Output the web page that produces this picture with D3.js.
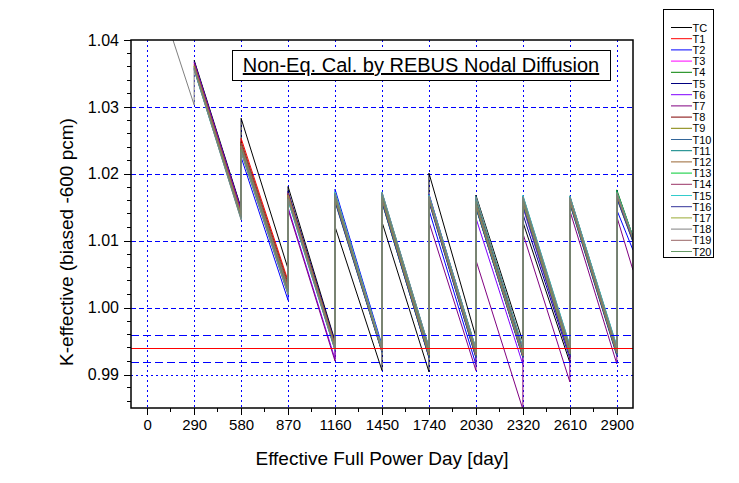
<!DOCTYPE html>
<html>
<head>
<meta charset="utf-8">
<script src="https://cdn.jsdelivr.net/npm/d3@7/dist/d3.min.js"></script>
<style>
	body { margin: 0; background: #fff; }
	svg text { font-family: "Liberation Sans", Arial, sans-serif; fill: #000; }
</style>
</head>
<body>
<div id="chartDiv"></div>
<script>
// cycle boundaries in EFPD (last one is where the frame cuts off)
var cycleDays = [290, 580, 870, 1160, 1450, 1740, 2030, 2320, 2610, 2900, 3000];
var xTicks = [0, 290, 580, 870, 1160, 1450, 1740, 2030, 2320, 2610, 2900];
var yTicks = [0.99, 1.00, 1.01, 1.02, 1.03, 1.04];

var seriesNames = ["TC", "T1", "T2", "T3", "T4", "T5", "T6", "T7", "T8", "T9", "T10",
	"T11", "T12", "T13", "T14", "T15", "T16", "T17", "T18", "T19", "T20"];
var seriesColors = ["#000000", "#ff0000", "#0000ff", "#ff00ff", "#008000", "#000080", "#8000ff",
	"#800080", "#800000", "#808000", "#336699", "#008080", "#996633", "#00cc33", "#993366",
	"#33cccc", "#333399", "#99aa33", "#808080", "#996666", "#669966"];

// k-eff per cycle as BOC, EOC pairs (10 cycles)
var kTC  = [1.0370, 1.0149, 1.0283, 1.0058, 1.0181, 0.9950, 1.0121, 0.9906, 1.0128, 0.9904, 1.0201, 0.9956, 1.0168, 0.9949, 1.0128, 0.9918, 1.0160, 0.9935, 1.0170, 1.0104];
var kT1  = [1.0362, 1.0140, 1.0253, 1.0040, 1.0170, 0.9944, 1.0165, 0.9938, 1.0160, 0.9930, 1.0165, 0.9932, 1.0158, 0.9932, 1.0160, 0.9934, 1.0162, 0.9934, 1.0168, 1.0102];
var kT2  = [1.0358, 1.0136, 1.0225, 1.0011, 1.0168, 0.9942, 1.0177, 0.9944, 1.0160, 0.9928, 1.0146, 0.9915, 1.0150, 0.9926, 1.0162, 0.9936, 1.0158, 0.9930, 1.0146, 1.0086];
var kT3  = [1.0366, 1.0144, 1.0240, 1.0028, 1.0172, 0.9946, 1.0166, 0.9939, 1.0168, 0.9936, 1.0168, 0.9935, 1.0160, 0.9934, 1.0163, 0.9937, 1.0164, 0.9937, 1.0170, 1.0104];
var kT4  = [1.0360, 1.0138, 1.0245, 1.0032, 1.0165, 0.9940, 1.0160, 0.9934, 1.0158, 0.9926, 1.0160, 0.9926, 1.0150, 0.9927, 1.0155, 0.9930, 1.0158, 0.9931, 1.0176, 1.0106];
var kT5  = [1.0368, 1.0147, 1.0236, 1.0024, 1.0174, 0.9948, 1.0168, 0.9939, 1.0163, 0.9931, 1.0162, 0.9929, 1.0162, 0.9938, 1.0140, 0.9924, 1.0160, 0.9932, 1.0166, 1.0100];
var kT6  = [1.0367, 1.0146, 1.0235, 1.0022, 1.0150, 0.9923, 1.0168, 0.9940, 1.0170, 0.9938, 1.0170, 0.9937, 1.0134, 0.9915, 1.0150, 0.9926, 1.0165, 0.9938, 1.0172, 1.0104];
var kT7  = [1.0366, 1.0145, 1.0238, 1.0025, 1.0147, 0.9920, 1.0170, 0.9941, 1.0172, 0.9940, 1.0128, 0.9906, 1.0071, 0.9848, 1.0111, 0.9889, 1.0145, 0.9916, 1.0136, 1.0056];
var kT8  = [1.0361, 1.0139, 1.0248, 1.0036, 1.0169, 0.9943, 1.0164, 0.9937, 1.0164, 0.9932, 1.0166, 0.9933, 1.0157, 0.9931, 1.0166, 0.9940, 1.0167, 0.9940, 1.0169, 1.0103];
var kT9  = [1.0359, 1.0137, 1.0242, 1.0030, 1.0167, 0.9941, 1.0162, 0.9935, 1.0161, 0.9929, 1.0163, 0.9930, 1.0154, 0.9929, 1.0158, 0.9932, 1.0160, 0.9933, 1.0165, 1.0099];
var kT10 = [1.0357, 1.0135, 1.0237, 1.0025, 1.0163, 0.9938, 1.0158, 0.9933, 1.0157, 0.9926, 1.0159, 0.9926, 1.0149, 0.9925, 1.0152, 0.9928, 1.0155, 0.9928, 1.0163, 1.0098];
var kT11 = [1.0356, 1.0133, 1.0233, 1.0020, 1.0160, 0.9936, 1.0172, 0.9941, 1.0171, 0.9940, 1.0169, 0.9939, 1.0164, 0.9940, 1.0167, 0.9943, 1.0166, 0.9942, 1.0174, 1.0106];
var kT12 = [1.0363, 1.0141, 1.0246, 1.0034, 1.0171, 0.9945, 1.0166, 0.9938, 1.0166, 0.9934, 1.0164, 0.9932, 1.0156, 0.9930, 1.0164, 0.9939, 1.0163, 0.9936, 1.0167, 1.0101];
var kT13 = [1.0360, 1.0138, 1.0243, 1.0031, 1.0166, 0.9940, 1.0161, 0.9935, 1.0159, 0.9927, 1.0161, 0.9928, 1.0152, 0.9927, 1.0156, 0.9930, 1.0157, 0.9930, 1.0173, 1.0105];
var kT14 = [1.0364, 1.0142, 1.0244, 1.0032, 1.0170, 0.9944, 1.0163, 0.9936, 1.0162, 0.9930, 1.0164, 0.9932, 1.0155, 0.9929, 1.0161, 0.9935, 1.0161, 0.9934, 1.0167, 1.0101];
var kT15 = [1.0355, 1.0132, 1.0234, 1.0021, 1.0161, 0.9937, 1.0173, 0.9941, 1.0173, 0.9941, 1.0168, 0.9938, 1.0166, 0.9941, 1.0168, 0.9944, 1.0167, 0.9943, 1.0172, 1.0105];
var kT16 = [1.0358, 1.0136, 1.0239, 1.0027, 1.0164, 0.9939, 1.0159, 0.9934, 1.0158, 0.9925, 1.0158, 0.9925, 1.0151, 0.9926, 1.0154, 0.9929, 1.0156, 0.9929, 1.0164, 1.0099];
var kT17 = [1.0361, 1.0139, 1.0241, 1.0029, 1.0168, 0.9942, 1.0163, 0.9936, 1.0162, 0.9929, 1.0162, 0.9929, 1.0153, 0.9928, 1.0157, 0.9931, 1.0159, 0.9932, 1.0168, 1.0102];
var kT18 = [1.0356, 1.0131, 1.0232, 1.0019, 1.0162, 0.9937, 1.0171, 0.9940, 1.0172, 0.9941, 1.0167, 0.9938, 1.0165, 0.9940, 1.0166, 0.9942, 1.0165, 0.9941, 1.0171, 1.0104];
var kT19 = [1.0359, 1.0137, 1.0240, 1.0028, 1.0166, 0.9940, 1.0164, 0.9936, 1.0163, 0.9931, 1.0163, 0.9930, 1.0155, 0.9929, 1.0159, 0.9933, 1.0161, 0.9933, 1.0169, 1.0103];
var kT20 = [1.0357, 1.0134, 1.0236, 1.0023, 1.0163, 0.9938, 1.0167, 0.9938, 1.0167, 0.9935, 1.0166, 0.9934, 1.0159, 0.9933, 1.0162, 0.9936, 1.0164, 0.9937, 1.0173, 1.0105];

// T18 also carries the initial core (day 0 to 290)
var leadDays = [0, 290];
var leadK18 = [1.0518, 1.0303];

// target k-eff and +-200 pcm band
var targetK = 0.9939;
var bandK = [0.9959, 0.9919];

var kAll = [kTC, kT1, kT2, kT3, kT4, kT5, kT6, kT7, kT8, kT9, kT10,
	kT11, kT12, kT13, kT14, kT15, kT16, kT17, kT18, kT19, kT20];

var svgWidth = 739, svgHeight = 483;
var plotL = 131, plotR = 633, plotT = 40, plotB = 408;

// snap a coordinate onto the pixel grid so 1px lines stay sharp
function px(v) {
	return Math.round(v) + 0.5;
}

function init() {
	var svg = d3.select("#chartDiv").append("svg")
		.attr("width", svgWidth)
		.attr("height", svgHeight);

	var x = d3.scaleLinear().domain([-100, 3000]).range([plotL, plotR]);
	var y = d3.scaleLinear().domain([0.985, 1.04]).range([plotB, plotT]);

	svg.append("clipPath").attr("id", "plotClip")
		.append("rect")
		.attr("x", plotL).attr("y", plotT)
		.attr("width", plotR - plotL).attr("height", plotB - plotT);

	// grid
	var grid = svg.append("g").attr("shape-rendering", "crispEdges");
	grid.selectAll("line.vgrid")
		.data(xTicks).enter().append("line")
		.attr("class", "vgrid")
		.attr("x1", function (d) { return px(x(d)); })
		.attr("x2", function (d) { return px(x(d)); })
		.attr("y1", plotT).attr("y2", plotB)
		.attr("stroke", "#0000ff")
		.attr("stroke-dasharray", "2,3");
	grid.selectAll("line.hgrid")
		.data(yTicks.slice(0, 5)).enter().append("line")
		.attr("class", "hgrid")
		.attr("x1", plotL).attr("x2", plotR)
		.attr("y1", function (d) { return px(y(d)); })
		.attr("y2", function (d) { return px(y(d)); })
		.attr("stroke", "#0000ff")
		.attr("stroke-dasharray", function (d) { return d < 0.995 ? "2,3" : "5,3"; });

	// series
	var line = d3.line()
		.x(function (d) { return x(d[0]); })
		.y(function (d) { return y(d[1]); });

	var seriesData = kAll.map(function (k, i) {
		var pts = [];
		if (seriesNames[i] == "T18") {
			pts.push([leadDays[0], leadK18[0]]);
			pts.push([leadDays[1], leadK18[1]]);
		}
		for (var c = 0; c < cycleDays.length - 1; c++) {
			pts.push([cycleDays[c], k[2 * c]]);
			pts.push([cycleDays[c + 1], k[2 * c + 1]]);
		}
		return {name: seriesNames[i], color: seriesColors[i], pts: pts};
	});
	// grey T18 ends up on top of the reload jumps
	var drawOrder = seriesData.filter(function (d) { return d.name != "T18"; })
		.concat(seriesData.filter(function (d) { return d.name == "T18"; }));

	svg.append("g")
		.attr("clip-path", "url(#plotClip)")
		.selectAll("path")
		.data(drawOrder).enter().append("path")
		.attr("d", function (d) { return line(d.pts); })
		.attr("fill", "none")
		.attr("stroke", function (d) { return d.color; })
		.attr("stroke-width", 1);

	// target and band
	svg.append("line")
		.attr("shape-rendering", "crispEdges")
		.attr("x1", plotL).attr("x2", plotR)
		.attr("y1", px(y(targetK))).attr("y2", px(y(targetK)))
		.attr("stroke", "#ff0000").attr("stroke-width", 1);
	svg.selectAll("line.band")
		.data(bandK).enter().append("line")
		.attr("class", "band")
		.attr("shape-rendering", "crispEdges")
		.attr("x1", plotL).attr("x2", plotR)
		.attr("y1", function (d) { return px(y(d)); })
		.attr("y2", function (d) { return px(y(d)); })
		.attr("stroke", "#0000ff").attr("stroke-width", 1)
		.attr("stroke-dasharray", "8,4");

	// axes
	var xAxis = svg.append("g")
		.attr("transform", "translate(0," + plotB + ")")
		.call(d3.axisBottom(x).tickValues(xTicks).tickSize(7).tickSizeOuter(0).tickPadding(4)
			.tickFormat(d3.format("d")));
	var xMinor = d3.range(145, 3000, 290);
	xAxis.selectAll("line.minor")
		.data(xMinor).enter().append("line")
		.attr("class", "minor")
		.attr("x1", function (d) { return x(d); })
		.attr("x2", function (d) { return x(d); })
		.attr("y1", 0).attr("y2", 4)
		.attr("stroke", "#000");
	xAxis.selectAll("text").style("font-size", "15px");

	var yAxis = svg.append("g")
		.attr("transform", "translate(" + plotL + ",0)")
		.call(d3.axisLeft(y).tickValues(yTicks).tickSize(7).tickSizeOuter(0).tickPadding(5)
			.tickFormat(d3.format(".2f")));
	var yMinor = d3.range(0.986, 1.039, 0.002).filter(function (v) {
		return Math.abs(Math.round(v * 100) - v * 100) > 0.01;
	});
	yAxis.selectAll("line.minor")
		.data(yMinor).enter().append("line")
		.attr("class", "minor")
		.attr("x1", 0).attr("x2", -4)
		.attr("y1", function (d) { return y(d); })
		.attr("y2", function (d) { return y(d); })
		.attr("stroke", "#000");
	yAxis.selectAll("text").style("font-size", "16px");

	svg.selectAll(".domain").remove();
	svg.selectAll(".tick line").attr("stroke", "#000");
	svg.selectAll(".tick line, line.minor").attr("shape-rendering", "crispEdges");

	// frame
	svg.append("rect")
		.attr("x", plotL).attr("y", plotT)
		.attr("width", plotR - plotL).attr("height", plotB - plotT)
		.attr("fill", "none").attr("stroke", "#000").attr("stroke-width", 1.5);

	// axis titles
	svg.append("text")
		.attr("x", (plotL + plotR) / 2)
		.attr("y", 465)
		.attr("text-anchor", "middle")
		.style("font-size", "19px")
		.text("Effective Full Power Day [day]");
	svg.append("text")
		.attr("transform", "translate(73,242) rotate(-90)")
		.attr("text-anchor", "middle")
		.style("font-size", "19px")
		.text("K-effective (biased -600 pcm)");

	// title box
	svg.append("rect")
		.attr("x", 232.5).attr("y", 50.5)
		.attr("width", 378).attr("height", 30)
		.attr("fill", "#fff").attr("stroke", "#000");
	svg.append("text")
		.attr("x", 421).attr("y", 72)
		.attr("text-anchor", "middle")
		.style("font-size", "20px")
		.style("text-decoration", "underline")
		.text("Non-Eq. Cal. by REBUS Nodal Diffusion");

	// legend
	var legend = svg.append("g");
	legend.append("rect")
		.attr("x", 663.5).attr("y", 9.5)
		.attr("width", 50).attr("height", 248)
		.attr("fill", "#fff").attr("stroke", "#000");
	var items = legend.selectAll("g.item")
		.data(seriesData).enter().append("g")
		.attr("class", "item")
		.attr("transform", function (d, i) { return "translate(0," + (27.5 + i * 11.2) + ")"; });
	items.append("line")
		.attr("x1", 671).attr("x2", 692)
		.attr("y1", 0).attr("y2", 0)
		.attr("stroke", function (d) { return d.color; });
	items.append("text")
		.attr("x", 692.5).attr("y", 4)
		.style("font-size", "11px")
		.text(function (d) { return d.name; });
}

init();
</script>
</body>
</html>
